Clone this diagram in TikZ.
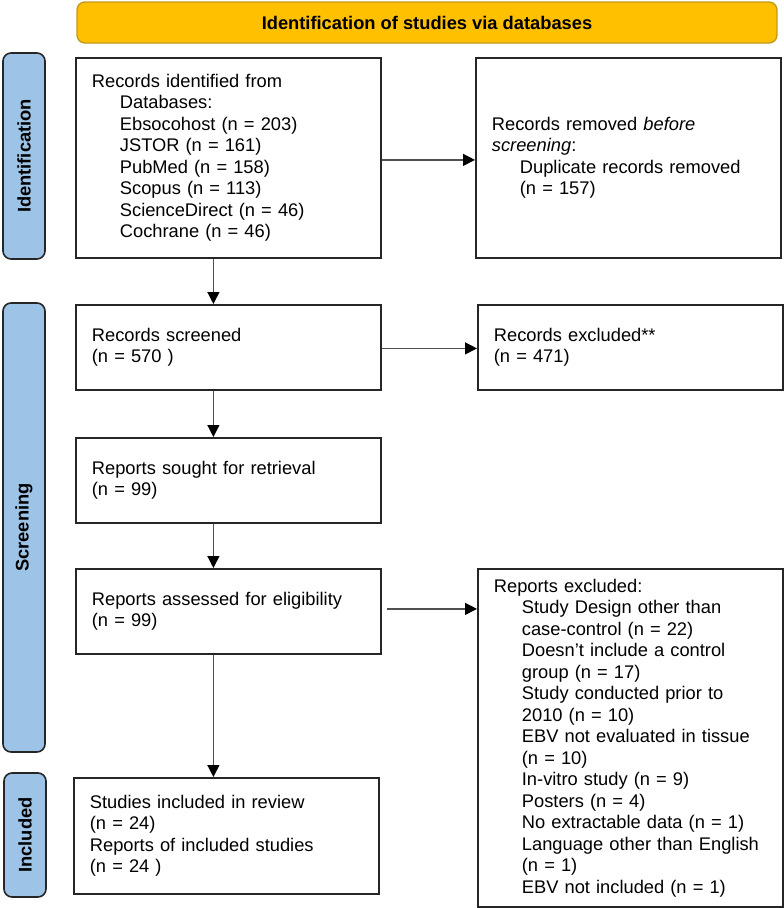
\documentclass[tikz,border=0pt]{standalone}
\usepackage{fontspec}
\setmainfont{Liberation Sans}
\usetikzlibrary{arrows.meta}
\definecolor{bannerfill}{HTML}{FFC000}
\definecolor{bannerline}{HTML}{C49A1A}
\definecolor{sidefill}{HTML}{9DC3E6}
\definecolor{sideline}{HTML}{262626}
\definecolor{arrline}{HTML}{505050}
\newcommand\myfs{\fontsize{18.3pt}{21.5pt}\selectfont}
\newcommand\myind{\hspace*{28pt}}
\tikzset{
  box/.style={draw=black!85, line width=1.8pt, fill=white, anchor=north west,
    align=left, inner xsep=16pt, inner ysep=0pt, font=\myfs,
    minimum width=305pt, text width=273pt},
  sidebar/.style={draw=sideline, line width=1.6pt, fill=sidefill, rounded corners=8pt},
  sidelabel/.style={rotate=90, font=\bfseries\myfs},
  arr/.style={draw=arrline, line width=1.3pt, -{Triangle[length=12pt,width=12pt,color=black]}}
}
\begin{document}
\begin{tikzpicture}[x=1pt,y=-1pt]
\useasboundingbox (0,0) rectangle (784,908);
% banner
\draw[draw=bannerline, line width=1.4pt, fill=bannerfill, rounded corners=8pt] (77,2) rectangle (777,43);
\node[font=\bfseries\myfs] (title) at (427,22.5) {Identification of studies via databases};
% side bars
\draw[sidebar] (3,53) rectangle (45,259);
\node[sidelabel] (lid) at (24,156) {Identification};
\draw[sidebar] (3,303) rectangle (45,752);
\node[sidelabel] (lsc) at (24,527.5) {Screening};
\draw[sidebar] (4,773) rectangle (46,897);
\node[sidelabel] (lin) at (25,835) {Included};
% boxes
\node[box, minimum height=200pt] (b1) at (75,57) {Records identified from\\
\myind Databases:\\
\myind Ebsocohost (n = 203)\\
\myind JSTOR (n = 161)\\
\myind PubMed (n = 158)\\
\myind Scopus (n = 113)\\
\myind ScienceDirect (n = 46)\\
\myind Cochrane (n = 46)};
\node[box, minimum height=200pt] (b2) at (475,57) {Records removed \textit{before}\\
\textit{screening}:\\
\myind Duplicate records removed\\
\myind (n = 157)};
\node[box, minimum height=85pt] (b3) at (75,304) {Records screened\\(n = 570 )};
\node[box, minimum height=85pt] (b4) at (477,304) {Records excluded**\\(n = 471)};
\node[box, minimum height=85pt] (b5) at (75,437) {Reports sought for retrieval\\(n = 99)};
\node[box, minimum height=85pt] (b6) at (75,568) {Reports assessed for eligibility\\(n = 99)};
\node[box, minimum height=338pt] (b7) at (477,568) {Reports excluded:\\
\myind Study Design other than\\
\myind case-control (n = 22)\\
\myind Doesn't include a control\\
\myind group (n = 17)\\
\myind Study conducted prior to\\
\myind 2010 (n = 10)\\
\myind EBV not evaluated in tissue\\
\myind (n = 10)\\
\myind In-vitro study (n = 9)\\
\myind Posters (n = 4)\\
\myind No extractable data (n = 1)\\
\myind Language other than English\\
\myind (n = 1)\\
\myind EBV not included (n = 1)};
\node[box, minimum height=116pt, minimum width=304pt] (b8) at (73,777) {Studies included in review\\(n = 24)\\Reports of included studies\\(n = 24 )};
% arrows
\coordinate (b6out) at ([xshift=5pt,yshift=2.5pt]b6.east);
\draw[arr] ([yshift=-2pt]b1.east) -- ([yshift=-2pt]b2.west);
\draw[arr] ([yshift=-1pt]b3.east) -- ([yshift=-1pt]b4.west);
\draw[arr] (b6out) -- (b7.west |- b6out);
\draw[arr] ([xshift=-15pt]b1.south) -- ([xshift=-15pt]b1.south |- b3.north);
\draw[arr] ([xshift=-15pt]b3.south) -- ([xshift=-15pt]b3.south |- b5.north);
\draw[arr] ([xshift=-15pt]b5.south) -- ([xshift=-15pt]b5.south |- b6.north);
\draw[arr] ([xshift=-15pt]b6.south) -- ([xshift=-15pt]b6.south |- b8.north);
\end{tikzpicture}
\end{document}
